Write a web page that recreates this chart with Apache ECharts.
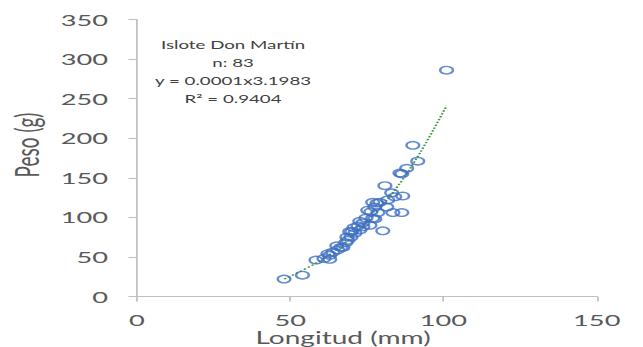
<!DOCTYPE html>
<html>
<head>
<meta charset="utf-8">
<script src="https://cdn.jsdelivr.net/npm/echarts@6/dist/echarts.min.js"></script>
<style>
html,body{margin:0;padding:0;background:#fff;overflow:hidden;}
#chart{width:378px;height:347px;transform:scaleX(1.7011);transform-origin:0 0;}
</style>
</head>
<body>
<div id="chart"></div>
<script>
// Data
const longitud = [48,54,58.4,61,62.9,62.3,65.5,67.2,68.1,68.8,69.8,70.1,70.8,72.7,73.7,76,80.2,72.7,76.9,78.6,75.3,77.6,81.5,83.5,86.4,76.9,79.2,81.8,84.1,86.7,80.9,83.1,78.3,85.8,88,90,91.6,68.5,71.1,73.7,65.2,63.9,101,86.4,69.4,72.1,74.7,76.3,77.6,62.9,66.5];
const peso     = [22,27,46,48,47,54,59,62,68,71,75,82,87,84,93,90,83,95,99,106,109,113,113,106,106,119,119,122,126,127,140,131,118,156,162,191,171,75,80,88,64,56,286,155,82,89,99,107,98,52,62];
const trendX = [48,55,60,65,70,75,80,85,90,95,101];
const trendY = [22,35,46,59,75,93,115,139,167,199,241];
const annotationLines = ['Islote Don Martín','n: 83','y = 0.0001x3.1983','R² = 0.9404'];
const xTicks = [0,50,100,150];
const yTicks = [0,50,100,150,200,250,300,350];

const chart = echarts.init(document.getElementById('chart'), null, {renderer:'svg'});
const axisGray = '#bfbfbf';
const labelGray = '#595959';
chart.setOption({
  animation:false,
  grid:{left:80.5, right:27.2, top:19.5, bottom:50.5, containLabel:false, outerBoundsMode:'none'},
  xAxis:{
    type:'value', min:xTicks[0], max:xTicks[xTicks.length-1], interval:50,
    name:'Longitud (mm)', nameLocation:'middle', nameGap:33.5, nameMoveOverlap:false,
    nameTextStyle:{fontFamily:'Lato', fontSize:16.5, lineHeight:15, color:labelGray, padding:[0,28,0,0]},
    axisLine:{show:true, lineStyle:{color:axisGray, width:1}},
    axisTick:{show:true, length:5, lineStyle:{color:axisGray}},
    axisLabel:{fontFamily:'Lato', fontSize:16, lineHeight:14, color:labelGray, margin:16},
    splitLine:{show:false}
  },
  yAxis:{
    type:'value', min:yTicks[0], max:yTicks[yTicks.length-1], interval:50,
    axisLine:{show:true, lineStyle:{color:axisGray, width:1}},
    axisTick:{show:true, length:5, lineStyle:{color:axisGray}},
    axisLabel:{fontFamily:'Lato', fontSize:16, color:labelGray, margin:17},
    splitLine:{show:false}
  },
  graphic:[
    {type:'text', x:16, y:145, rotation:Math.PI/2,
     style:{text:'Peso (g)', fontFamily:'Lato', fontSize:19, fill:labelGray, align:'center', verticalAlign:'middle'}},
    {type:'text', x:137, y:72,
     style:{text:annotationLines.join('\n'), fontFamily:'Lato', fontSize:11, lineHeight:18, fill:'#404040', align:'center', verticalAlign:'middle'}}
  ],
  series:[
    {type:'line', data:trendX.map((x,i)=>[x,trendY[i]]), smooth:true, showSymbol:false, symbol:'none',
     lineStyle:{color:'#3a9a3a', width:1.3, type:[1.5,1.5]}, z:1},
    {type:'scatter', data:longitud.map((x,i)=>[x,peso[i]]), symbol:'circle', symbolSize:7.5,
     itemStyle:{color:'rgba(0,0,0,0)', borderColor:'#3f6fc2', borderWidth:1.4}, z:2}
  ]
});
</script>
</body>
</html>
